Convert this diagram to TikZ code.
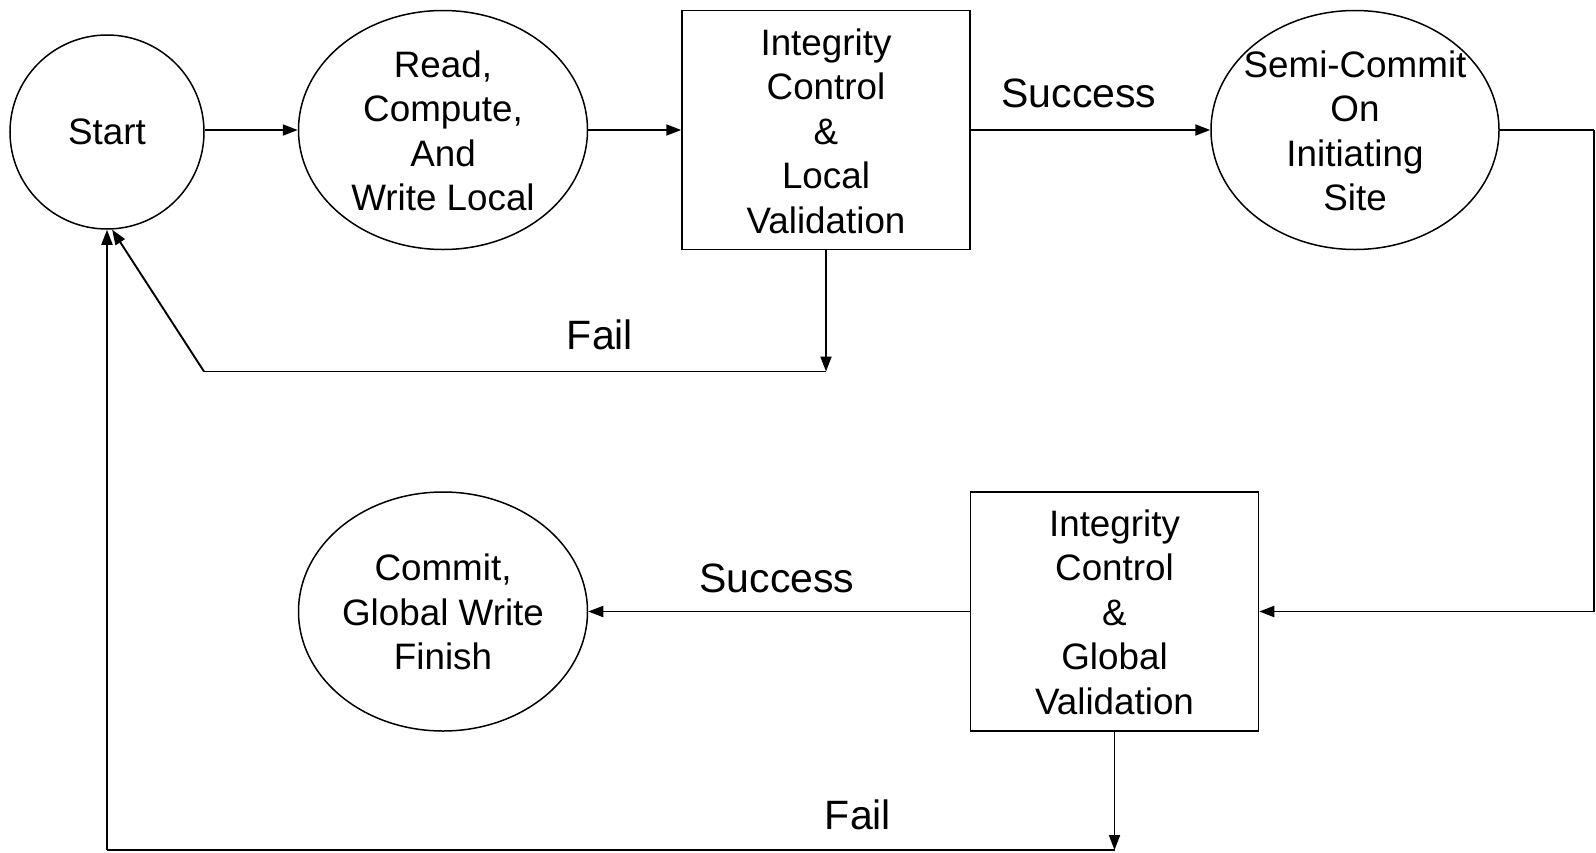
\documentclass[tikz,border=0pt]{standalone}
\usepackage{fontspec}
\setmainfont{Liberation Sans}
\usetikzlibrary{shapes.geometric,arrows.meta}
\begin{document}
\begin{tikzpicture}[x=1pt,y=-1pt,
  shapeline/.style={draw=black,line width=1.5pt},
  oval/.style={shapeline,ellipse,inner sep=0pt},
  stepbox/.style={shapeline,rectangle,inner sep=0pt,minimum width=288pt,minimum height=239pt},
  txt/.style={align=center,font=\fontsize{36.8}{44.5}\selectfont,inner sep=0pt},
  lbl/.style={font=\fontsize{41}{48}\selectfont,inner sep=0pt},
  conn/.style={draw=black,line width=1.9pt},
  arr/.style={conn,-{Triangle[length=15pt,width=11pt]}}]
\useasboundingbox (0,0) rectangle (1596,852);
% nodes
\node[oval,minimum width=194pt,minimum height=194pt] (start) at (107,132) {};
\node[txt] (starttxt) at (107,132) {Start};
\node[oval,minimum width=289pt,minimum height=239pt] (read) at (443,130) {};
\node[txt] (readtxt) at (443,131) {Read,\\Compute,\\And\\Write Local};
\node[stepbox] (lv) at (826,130) {};
\node[txt] (lvtxt) at (826,131) {Integrity\\Control\\\&\\Local\\Validation};
\node[oval,minimum width=288pt,minimum height=239pt] (semi) at (1355,130) {};
\node[txt] (semitxt) at (1355,131) {Semi-Commit\\On\\Initiating\\Site};
\node[stepbox] (gv) at (1114.5,611.5) {};
\node[txt] (gvtxt) at (1114.5,612) {Integrity\\Control\\\&\\Global\\Validation};
\node[oval,minimum width=289pt,minimum height=239pt] (commit) at (443,611.5) {};
\node[txt] (committxt) at (443,612) {Commit,\\Global Write\\Finish};
% labels
\node[lbl] (succ1) at (1079,93) {Success};
\node[lbl] (fail1) at (600,335) {Fail};
\node[lbl] (succ2) at (777,578) {Success};
\node[lbl] (fail2) at (858,815) {Fail};
% coordinates
\coordinate (f1r) at (826,371.5);
\coordinate (f1l) at (204,371.5);
\coordinate (rt) at (1594,130);
\coordinate (f2r) at (1114.5,850);
\coordinate (f2l) at (107,850);
% connectors
\draw[arr] (start.east |- read.west) -- (read.west);
\draw[arr] (read.east) -- (lv.west);
\draw[arr] (lv.east) -- (semi.west);
\draw[conn] (semi.east) -- (rt);
\draw[arr] (rt) |- (gv.east);
\draw[arr] (gv.west) -- (commit.east);
\draw[arr] (lv.south) -- (f1r);
\draw[conn] (f1r) -- (f1l);
\draw[arr] (f1l) -- (start.-87);
\draw[arr] (gv.south) -- (f2r);
\draw[conn] (f2r) -- (f2l);
\draw[arr] (f2l) -- (start.south);
\end{tikzpicture}
\end{document}
